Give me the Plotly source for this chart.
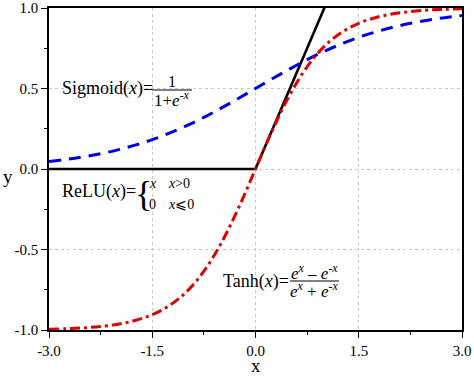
import plotly.graph_objects as go

x_vals = [-3.0, -2.75, -2.5, -2.25, -2.0, -1.75, -1.5, -1.25, -1.0, -0.75, -0.5, -0.25,
          0.0, 0.25, 0.5, 0.75, 1.0, 1.25, 1.5, 1.75, 2.0, 2.25, 2.5, 2.75, 3.0]
sigmoid_vals = [0.047, 0.060, 0.076, 0.095, 0.119, 0.148, 0.182, 0.223, 0.269, 0.321, 0.378, 0.438,
                0.500, 0.562, 0.622, 0.679, 0.731, 0.777, 0.818, 0.852, 0.881, 0.905, 0.924, 0.940, 0.953]
tanh_vals = [-0.995, -0.992, -0.987, -0.978, -0.964, -0.941, -0.905, -0.848, -0.762, -0.635, -0.462, -0.245,
             0.000, 0.245, 0.462, 0.635, 0.762, 0.848, 0.905, 0.941, 0.964, 0.978, 0.987, 0.992, 0.995]
relu_x = [-3.0, 0.0, 3.0]
relu_vals = [0.0, 0.0, 3.0]

x_tick_vals = [-3.0, -1.5, 0.0, 1.5, 3.0]
x_tick_text = ["-3.0", "-1.5", "0.0", "1.5", "3.0"]
y_tick_vals = [-1.0, -0.5, 0.0, 0.5, 1.0]
y_tick_text = ["-1.0", "-0.5", "0.0", "0.5", "1.0"]

SERIF = "Times New Roman, Liberation Serif, serif"

fig = go.Figure()
fig.add_trace(go.Scatter(x=relu_x, y=relu_vals, mode="lines",
                         line=dict(color="black", width=2.6)))
fig.add_trace(go.Scatter(x=x_vals, y=sigmoid_vals, mode="lines",
                         line=dict(color="#0000e6", width=3, dash="12px,8px", shape="spline")))
fig.add_trace(go.Scatter(x=x_vals, y=tanh_vals, mode="lines",
                         line=dict(color="#e00000", width=3, dash="10px,4px,3px,4px", shape="spline")))

axis_common = dict(
    showline=True, linecolor="black", linewidth=1.5, mirror=True,
    ticks="outside", ticklen=6, tickwidth=1.2, tickcolor="black",
    showgrid=True, gridcolor="#c8c8c8", griddash="dot", gridwidth=1,
    zeroline=False, automargin=False,
    tickfont=dict(family=SERIF, size=15, color="black"),
    minor=dict(ticks="outside", ticklen=3, tickwidth=1.2, tickcolor="black", showgrid=False),
)

fig.update_xaxes(range=[-3, 3], tickvals=x_tick_vals, ticktext=x_tick_text, **axis_common)
fig.update_yaxes(range=[-1, 1], tickvals=y_tick_vals, ticktext=y_tick_text, **axis_common)
fig.update_xaxes(minor=dict(tickvals=[-2.25, -0.75, 0.75, 2.25]))
fig.update_yaxes(minor=dict(tickvals=[-0.75, -0.25, 0.25, 0.75]))

W, H = 474, 377
ml, mr, mt, mb = 49, 12, 8, 47
pw, ph = W - ml - mr, H - mt - mb


def px(xp):
    return (xp - ml) / pw


def py(yp):
    return 1 - (yp - mt) / ph


annotations = []
shapes = []


def txt(text, x, y, size, xanchor="left"):
    annotations.append(dict(text=text, x=px(x), y=py(y), xref="paper", yref="paper",
                            xanchor=xanchor, yanchor="middle", showarrow=False,
                            font=dict(family=SERIF, size=size, color="black")))


def bar(x0, x1, y):
    shapes.append(dict(type="line", xref="paper", yref="paper", x0=px(x0), x1=px(x1),
                       y0=py(y), y1=py(y), line=dict(color="black", width=1)))


# axis titles
txt("x", 256, 365, 19, "center")
txt("y", 8, 176, 19, "center")

# Sigmoid
txt("Sigmoid(<i>x</i>)=", 60, 89, 18)
txt("1", 172, 81, 16, "center")
bar(152, 192, 90)
txt("1+<i>e</i><sup>-<i>x</i></sup>", 172, 99, 17, "center")

# ReLU
txt("ReLU(<i>x</i>)=", 60, 191, 18)
txt("{", 143, 194, 36, "center")
txt("<i>x</i>", 147, 183, 14)
txt("<i>x</i>&gt;0", 166, 183, 14)
txt("0", 147, 204, 14)
txt("<i>x</i>⩽0", 166, 204, 14)

# Tanh
txt("Tanh(<i>x</i>)=", 221, 281, 18)
txt("<i>e</i><sup><i>x</i></sup> – <i>e</i><sup>-<i>x</i></sup>", 314, 272, 17, "center")
bar(290, 339, 281)
txt("<i>e</i><sup><i>x</i></sup> + <i>e</i><sup>-<i>x</i></sup>", 314, 290, 17, "center")

fig.update_layout(
    width=W, height=H,
    margin=dict(l=ml, r=mr, t=mt, b=mb),
    paper_bgcolor="white", plot_bgcolor="white",
    showlegend=False,
    font=dict(family=SERIF),
    annotations=annotations, shapes=shapes,
)

fig.write_html("out.html", post_script="document.body.style.margin='0';",
               config={"displayModeBar": False})
